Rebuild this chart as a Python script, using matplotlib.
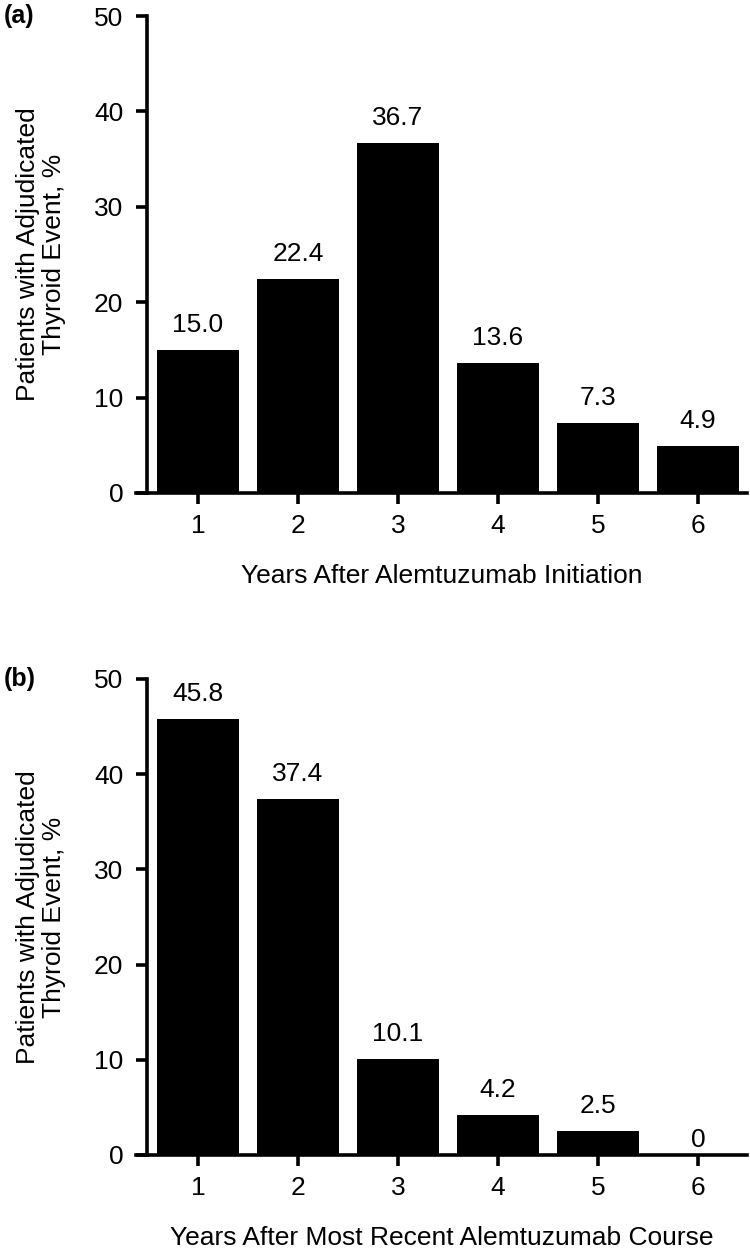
import matplotlib
matplotlib.use("Agg")
import matplotlib.pyplot as plt

plt.rcParams['font.family'] = ['Liberation Sans', 'DejaVu Sans']

years = [1, 2, 3, 4, 5, 6]
values_a = [15.0, 22.4, 36.7, 13.6, 7.3, 4.9]
values_b = [45.8, 37.4, 10.1, 4.2, 2.5, 0]
labels_a = ["15.0", "22.4", "36.7", "13.6", "7.3", "4.9"]
labels_b = ["45.8", "37.4", "10.1", "4.2", "2.5", "0"]
yticks = [0, 10, 20, 30, 40, 50]
xlabel_a = "Years After Alemtuzumab Initiation"
xlabel_b = "Years After Most Recent Alemtuzumab Course"
ylabel = "Patients with Adjudicated\nThyroid Event, %"
panel_a = "(a)"
panel_b = "(b)"

W, H = 750, 1248
fig = plt.figure(figsize=(W / 100, H / 100), dpi=100)

FS = 19
LW = 2.6


def make_panel(top_px, bottom_px, values, labels, xlabel, tag):
    left_px, right_px = 136, 747
    ax = fig.add_axes([left_px / W, 1 - bottom_px / H,
                       (right_px - left_px) / W, (bottom_px - top_px) / H])
    ax.bar(years, values, width=0.82, color='black', edgecolor='none')
    ax.set_xlim(0.38, 6.49)
    ax.set_ylim(0, 50)
    ax.spines['top'].set_visible(False)
    ax.spines['right'].set_visible(False)
    ax.spines['left'].set_position(('data', 0.49))
    for s in ('left', 'bottom'):
        ax.spines[s].set_linewidth(LW)
        ax.spines[s].set_capstyle('projecting')
    ax.set_xticks(years)
    ax.set_xticklabels([str(y) for y in years])
    ax.set_yticks(yticks)
    ax.tick_params(axis='both', direction='out', length=8, width=LW,
                   labelsize=FS, colors='black')
    ax.tick_params(axis='x', pad=7)
    ax.tick_params(axis='y', pad=9)
    for x, v, t in zip(years, values, labels):
        off = 13 if v > 0 else 6
        ax.annotate(t, (x, v), xytext=(0, off), textcoords='offset points',
                    ha='center', va='baseline', fontsize=FS)
    ax.set_xlabel(xlabel, fontsize=FS, labelpad=19)
    ax.set_ylabel(ylabel, fontsize=FS, labelpad=20, linespacing=1.1)
    fig.text(4 / W, 1 - top_px / H, tag, fontsize=18, fontweight='bold',
             ha='left', va='center')
    return ax


make_panel(16, 493, values_a, labels_a, xlabel_a, panel_a)
make_panel(679, 1155, values_b, labels_b, xlabel_b, panel_b)

fig.savefig("out.png", dpi=100, facecolor='white')
